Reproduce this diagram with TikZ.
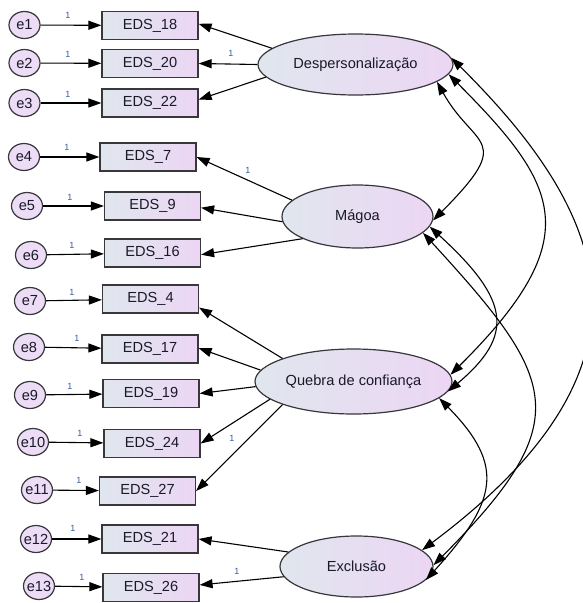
\documentclass[tikz,border=0pt]{standalone}
\usepackage{fontspec}
\setmainfont{Liberation Sans}
\usetikzlibrary{arrows.meta,shapes.geometric}
\definecolor{boxL}{RGB}{224,230,238}
\definecolor{boxR}{RGB}{236,214,244}
\definecolor{errF}{RGB}{236,220,245}
\definecolor{edgeC}{RGB}{55,55,60}
\definecolor{lblC}{RGB}{55,90,160}
\definecolor{txtC}{RGB}{25,25,40}
\newcommand{\ez}[1]{\makebox[0pt]{#1}}
\begin{document}
\begin{tikzpicture}[x=1pt,y=-1pt,
  obs/.style={rectangle,draw=edgeC,line width=1.2pt,minimum width=96pt,minimum height=28pt,inner sep=0pt,left color=boxL,right color=boxR,font=\fontsize{14.6}{16}\selectfont,text=txtC},
  lat/.style={ellipse,draw=edgeC,line width=1.2pt,inner sep=0pt,left color=boxL,right color=boxR,font=\fontsize{14.6}{16}\selectfont,text=txtC},
  err/.style={ellipse,draw=edgeC,line width=1.2pt,fill=errF,minimum width=31pt,minimum height=27pt,inner sep=0pt,font=\fontsize{14.6}{16}\selectfont,text=txtC},
  one/.style={font=\fontsize{9}{10}\selectfont,text=lblC,inner sep=0pt},
  reg/.style={draw,line width=1.1pt,-{Triangle[length=13pt,width=9pt]}},
  cov/.style={draw,line width=1.1pt,{Triangle[length=13pt,width=9pt]}-{Triangle[length=13pt,width=9pt]}}]
\useasboundingbox (0,0) rectangle (583,603);

% observed variables
\node[obs] (EDS18) at (150,25.5) {EDS\_18};
\node[obs] (EDS20) at (150,63.5) {EDS\_20};
\node[obs] (EDS22) at (150,103) {EDS\_22};
\node[obs] (EDS7) at (148,157) {EDS\_7};
\node[obs] (EDS9) at (152.5,206) {EDS\_9};
\node[obs] (EDS16) at (152.5,253) {EDS\_16};
\node[obs] (EDS4) at (150.5,299) {EDS\_4};
\node[obs] (EDS17) at (150,349) {EDS\_17};
\node[obs] (EDS19) at (151,393.5) {EDS\_19};
\node[obs] (EDS24) at (152,443.5) {EDS\_24};
\node[obs] (EDS27) at (147.5,491) {EDS\_27};
\node[obs] (EDS21) at (150,539) {EDS\_21};
\node[obs] (EDS26) at (151,587.5) {EDS\_26};

% errors
\node[err] (e1) at (24.5,25) {\ez{e1}};
\node[err] (e2) at (24.5,63) {\ez{e2}};
\node[err] (e3) at (24.5,103) {\ez{e3}};
\node[err] (e4) at (24,157) {\ez{e4}};
\node[err] (e5) at (27,206) {\ez{e5}};
\node[err] (e6) at (31,255) {\ez{e6}};
\node[err] (e7) at (30,301) {\ez{e7}};
\node[err] (e8) at (29,347) {\ez{e8}};
\node[err] (e9) at (30,395) {\ez{e9}};
\node[err] (e10) at (33,442) {\ez{e10}};
\node[err] (e11) at (37,490) {\ez{e11}};
\node[err] (e12) at (36,539) {\ez{e12}};
\node[err] (e13) at (39,586) {\ez{e13}};

% latent variables
\node[lat,minimum width=195pt,minimum height=61pt] (D) at (355.5,64.5) {Despersonalização};
\node[lat,minimum width=151pt,minimum height=63pt] (M) at (357.5,216.5) {Mágoa};
\node[lat,minimum width=197pt,minimum height=65pt] (Q) at (353.5,381.5) {Quebra de confiança};
\node[lat,minimum width=153pt,minimum height=61pt] (E) at (356.5,566.5) {Exclusão};

% error paths
\foreach \e/\o in {e1/EDS18,e2/EDS20,e3/EDS22,e4/EDS7,e5/EDS9,e6/EDS16,e7/EDS4,e8/EDS17,e9/EDS19,e10/EDS24,e11/EDS27,e12/EDS21,e13/EDS26}
  \draw[reg] (\e) -- (\o);

% loadings
\draw[reg] (D.169) -- (EDS18.2);
\draw[reg] (D.180) -- (EDS20.east);
\draw[reg] (D.188) -- (EDS22.4);
\draw[reg] (M.166) -- (EDS7.east);
\draw[reg] (M.184) -- (EDS9.-2);
\draw[reg] (M.202) -- (EDS16.-2.5);
\draw[reg] (Q.162) -- (EDS4.-10);
\draw[reg] (Q.173) -- (EDS17.1);
\draw[reg] (Q.183) -- (EDS19.east);
\draw[reg] (Q.192) -- (EDS24.east);
\draw[reg] (Q.198) -- (EDS27.east);
\draw[reg] (E.168) -- (EDS21.east);
\draw[reg] (E.188) -- (EDS26.3);

% covariances
\draw[cov] (D.-12) .. controls (474.5,149) and (516,137) .. (M.-3);
\draw[cov] (D.-6) .. controls (560,186) and (588,238) .. (Q.4);
\draw[cov] (D.4) .. controls (614.7,219.7) and (666.7,367) .. (E.14);
\draw[cov] (M.-8) .. controls (510,300) and (515,335) .. (Q.-6);
\draw[cov] (M.-14) .. controls (558.4,380.3) and (577.6,420.4) .. (E.1);
\draw[cov] (Q.-11) .. controls (506,466) and (497,501.5) .. (E.-11);

% labels
\node[one] (l1) at (68,15) {1};
\node[one] (l2) at (68,54) {1};
\node[one] (l3) at (68,94) {1};
\node[one] (l4) at (67,147) {1};
\node[one] (l5) at (70,197) {1};
\node[one] (l6) at (72,245) {1};
\node[one] (l7) at (72,292) {1};
\node[one] (l8) at (77,338) {1};
\node[one] (l9) at (70,386) {1};
\node[one] (l10) at (80,433) {1};
\node[one] (l11) at (79,480) {1};
\node[one] (l12) at (73,528) {1};
\node[one] (l13) at (82,577) {1};
\node[one] (lD) at (231,53) {1};
\node[one] (lM) at (248,170) {1};
\node[one] (lQ) at (232,438) {1};
\node[one] (lE) at (237,571) {1};
\end{tikzpicture}
\end{document}
